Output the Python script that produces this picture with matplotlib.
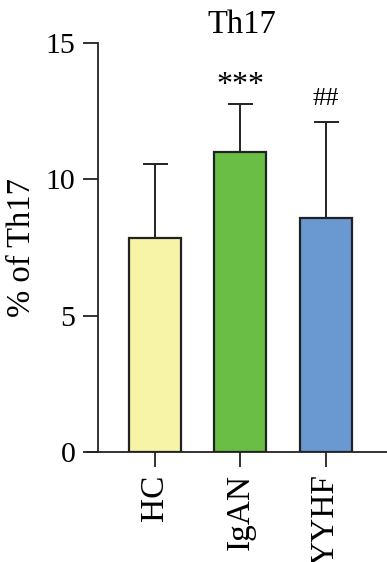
import numpy as np
import matplotlib
matplotlib.use('Agg')
import matplotlib.pyplot as plt

# data
groups = ['HC', 'IgAN', 'YYHF']
means = [7.84, 11.0, 8.57]
sd = [2.72, 1.77, 3.53]
marks = ['', '***', '##']
colors = ['#F7F4A8', '#6ABD45', '#6A98D0']

plt.rcParams['font.family'] = ['Liberation Serif', 'DejaVu Serif']
plt.rcParams['font.size'] = 21.5

fig = plt.figure(figsize=(3.87, 5.62), dpi=100)
ax = fig.add_axes([0.2525, 0.1957, 0.7475, 0.7278])

x = np.arange(len(groups))
ax.bar(x, means, width=0.61, color=colors, edgecolor='#222222', linewidth=1.6, zorder=2)
ax.errorbar(x, means, yerr=[np.zeros(len(sd)), sd], fmt='none', ecolor='#222222',
            elinewidth=1.4, capsize=9, capthick=1.4, zorder=1)
offs = [0, 0.15, 0.45]
sizes = [0, 23, 19]
for xi, m, s, t, o, fs in zip(x, means, sd, marks, offs, sizes):
    if t:
        ax.text(xi, m + s + o, t, ha='center', va='bottom', fontsize=fs)

ax.set_xlim(-0.67, 2.72)
ax.set_ylim(0, 15)
ax.set_yticks([0, 5, 10, 15])
ax.set_xticks(x)
ax.set_xticklabels(groups, rotation=90, fontsize=24)
ax.set_ylabel('% of Th17', labelpad=6, fontsize=23.5)
ax.set_title('Th17', fontsize=23.5, pad=7)

for s in ['top', 'right']:
    ax.spines[s].set_visible(False)
ax.spines['left'].set_linewidth(1.3)
ax.spines['bottom'].set_linewidth(1.3)
ax.spines['bottom'].set_bounds(-0.8, 2.72)
ax.spines['left'].set_color('#222222')
ax.spines['bottom'].set_color('#222222')
ax.tick_params(axis='both', length=11, width=1.3, color='#222222', pad=5)

fig.savefig('out.png', dpi=100)
